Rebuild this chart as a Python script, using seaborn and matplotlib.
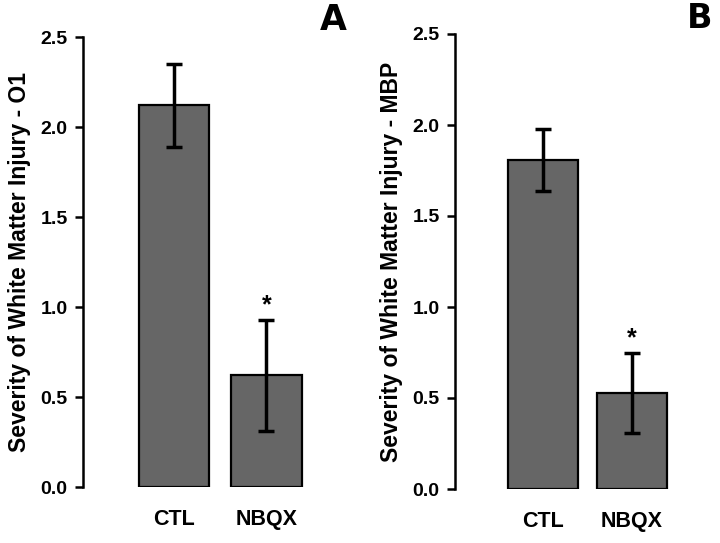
import matplotlib
matplotlib.use("Agg")
import matplotlib.pyplot as plt
import seaborn as sns
import pandas as pd

groups = ["CTL", "NBQX"]
o1_mean = [2.12, 0.62]
o1_err = [0.23, 0.31]
mbp_mean = [1.81, 0.53]
mbp_err = [0.17, 0.22]

ylabels = ["Severity of White Matter Injury - O1", "Severity of White Matter Injury - MBP"]

sns.set_theme(style="white")
plt.rcParams["font.family"] = ["Liberation Sans", "DejaVu Sans"]
plt.rcParams["font.weight"] = "bold"
plt.rcParams["text.color"] = "black"
plt.rcParams["axes.labelcolor"] = "black"

fig = plt.figure(figsize=(7.2, 5.43), dpi=100)
ax_a = fig.add_axes([83 / 720, 1 - 487 / 543, 250 / 720, 450 / 543])
ax_b = fig.add_axes([455 / 720, 1 - 489 / 543, 250 / 720, 455 / 543])

panels = [
    (ax_a, o1_mean, o1_err, 0.76, (-0.98, 1.72)),
    (ax_b, mbp_mean, mbp_err, 0.79, (-0.99, 1.82)),
]

for i, (ax, means, errs, w, xl) in enumerate(panels):
    df = pd.DataFrame({"group": groups, "value": means})
    sns.barplot(data=df, x="group", y="value", color="#666666", saturation=1,
                width=w, edgecolor="black", linewidth=1.6, errorbar=None, ax=ax)
    ax.errorbar(range(len(groups)), means, yerr=errs, fmt="none", ecolor="black",
                elinewidth=2.5, capsize=5.5, capthick=2.5)
    # significance star above the NBQX bar
    ax.text(1, means[1] + errs[1] + 0.01, "*", ha="center", va="bottom",
            fontsize=18, fontweight="bold")
    ax.set_ylim(0, 2.5)
    ax.set_xlim(*xl)
    ax.set_yticks([0, 0.5, 1.0, 1.5, 2.0, 2.5])
    ax.set_yticklabels(["0.0", "0.5", "1.0", "1.5", "2.0", "2.5"])
    ax.set_xlabel("")
    ax.set_ylabel(ylabels[i], fontsize=16.5, fontweight="bold", labelpad=7)
    sns.despine(ax=ax, bottom=True)
    ax.spines["left"].set_linewidth(1.8)
    ax.spines["left"].set_color("black")
    ax.tick_params(axis="y", left=True, length=6, width=1.8, pad=5,
                   labelsize=14, colors="black")
    ax.tick_params(axis="x", bottom=False, pad=10, labelsize=15.5, colors="black")
    for lab in ax.get_xticklabels() + ax.get_yticklabels():
        lab.set_fontweight("bold")

fig.text(333 / 720, 1 - 20 / 543, "A", ha="center", va="center",
         fontsize=25, fontweight="heavy", family="DejaVu Sans")
fig.text(700 / 720, 1 - 18 / 543, "B", ha="center", va="center",
         fontsize=24, fontweight="heavy", family="DejaVu Sans")

fig.savefig("out.png", dpi=100)
